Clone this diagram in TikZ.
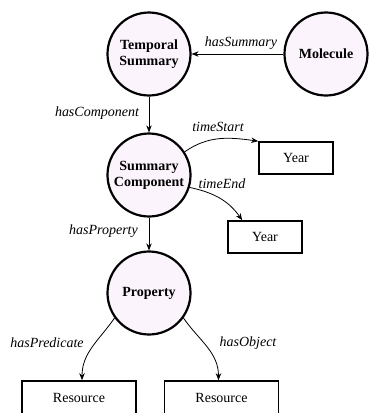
\documentclass[tikz,border=0pt]{standalone}
\usepackage{fontspec}
\setmainfont{Liberation Serif}
\usetikzlibrary{arrows.meta,calc}
\definecolor{circfill}{RGB}{252,244,252}
\begin{document}
\begin{tikzpicture}[x=1pt,y=1pt,
  concept/.style={circle,draw,line width=2.2pt,fill=circfill,minimum size=83pt,inner sep=0pt,align=center,font=\fontsize{14}{16}\selectfont\bfseries},
  litbox/.style={rectangle,draw,line width=1.6pt,minimum width=74pt,minimum height=32pt,inner sep=0pt,font=\fontsize{14}{16}\selectfont},
  resbox/.style={rectangle,draw,line width=1.6pt,minimum width=114pt,minimum height=34pt,inner sep=0pt,font=\fontsize{14}{16}\selectfont},
  rel/.style={-{Stealth[length=7pt,width=5.5pt]},line width=0.8pt},
  lbl/.style={font=\fontsize{14}{16}\selectfont\itshape,inner sep=0pt}]
\useasboundingbox (0,0) rectangle (368,-413);
\node[concept] (ts) at (149,-54) {Temporal\\Summary};
\node[concept] (mol) at (326,-54) {Molecule};
\node[concept] (sc) at (149,-175) {Summary\\Component};
\node[concept] (prop) at (149,-293) {Property};
\node[litbox] (y1) at (296,-158) {Year};
\node[litbox] (y2) at (265,-237) {Year};
\node[resbox] (r1) at (79,-398) {Resource};
\node[resbox] (r2) at (221.5,-398) {Resource};

\draw[rel] (mol) -- (ts);
\draw[rel] (ts) -- (sc);
\draw[rel] (sc) -- (prop);
\draw[rel] (sc.33) to[out=35,in=172] (y1.north west);
\coordinate (y2t) at ($(y2.north west)+(15,0)$);
\draw[rel] (sc.-17) to[out=-12,in=125] (y2t);
\coordinate (r1t) at ($(r1.north)+(3,0)$);
\coordinate (r2t) at ($(r2.north)+(-3,0)$);
\draw[rel] (prop.216) to[out=235,in=90] (r1t);
\draw[rel] (prop.-36) to[out=-55,in=90] (r2t);

\node[lbl] (l1) at (241,-43) {hasSummary};
\node[lbl] (l2) at (97,-113) {hasComponent};
\node[lbl] (l3) at (218,-127) {timeStart};
\node[lbl] (l4) at (222,-184) {timeEnd};
\node[lbl] (l5) at (103.5,-231) {hasProperty};
\node[lbl] (l6) at (47,-343) {hasPredicate};
\node[lbl] (l7) at (248,-343) {hasObject};
\end{tikzpicture}
\end{document}
